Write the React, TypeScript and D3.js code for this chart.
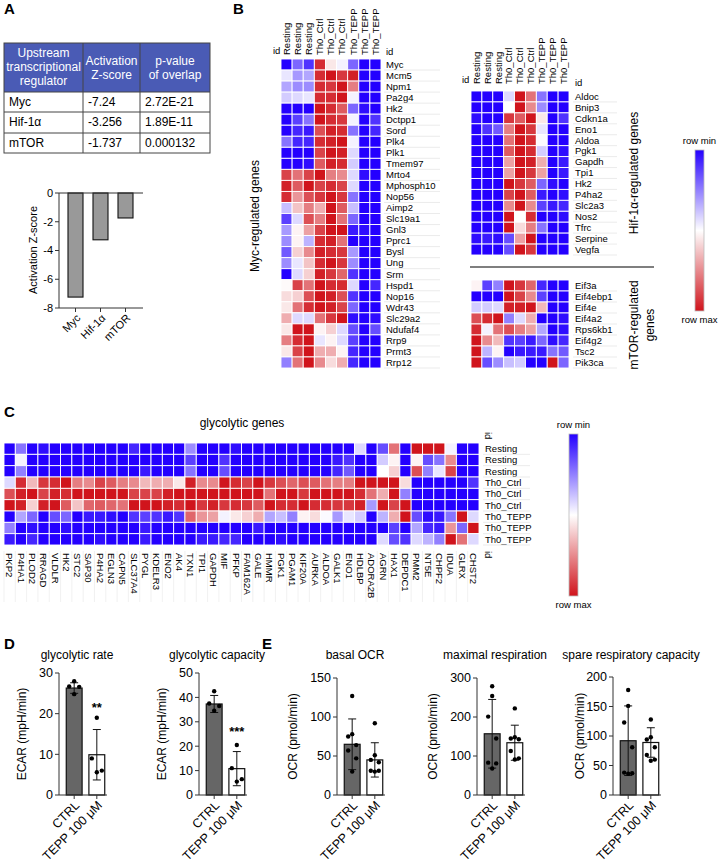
import React from "react";
import * as d3 from "d3";

const FONT = "'Liberation Sans', Arial, sans-serif";

// ---------- Panel A ----------
const regulators = ["Myc", "Hif-1α", "mTOR"];
const zScoreText = ["-7.24", "-3.256", "-1.737"];
const zScores = [-7.24, -3.256, -1.737];
const pValues = ["2.72E-21", "1.89E-11", "0.000132"];
const tableHeaders = [["Upstream", "transcriptional", "regulator"], ["Activation", "Z-score"], ["p-value", "of overlap"]];
const zTicks = [0, -2, -4, -6, -8];

// ---------- Panel B ----------
const sampleLabels = ["Resting", "Resting", "Resting", "Th0_Ctrl", "Th0_Ctrl", "Th0_Ctrl", "Th0_TEPP", "Th0_TEPP", "Th0_TEPP"];
const mycGenes = ["Myc", "Mcm5", "Npm1", "Pa2g4", "Hk2", "Dctpp1", "Sord", "Plk4", "Plk1", "Tmem97", "Mrto4", "Mphosph10", "Nop56", "Aimp2", "Slc19a1", "Gnl3", "Pprc1", "Bysl", "Ung", "Srm", "Hspd1", "Nop16", "Wdr43", "Slc29a2", "Ndufaf4", "Rrp9", "Prmt3", "Rrp12"];
const mycValues = [
  [-1, -0.6, -0.8, 0.9, 0.1, -0.05, -0.6, -1, -1],
  [-0.1, -0.4, -0.35, 0.9, 1, 0.85, 0.95, -1, -1],
  [-0.35, -0.45, -0.45, 0.9, 0.85, 1, 0.55, -1, -1],
  [-0.2, -0.15, -0.1, 0.9, 0.9, 1, -0.05, -1, -1],
  [-1, -1, -1, 1, 0.9, 0.7, -0.6, -0.95, -1],
  [-1, -0.75, -0.55, 1, 0.9, 0.85, -0.05, -1, -0.8],
  [-1, -0.85, -0.9, 0.75, 0.95, 0.9, -0.55, -1, -0.85],
  [-0.55, -0.85, -0.85, 0.9, 0.95, 1, -0.05, -1, -1],
  [-1, -1, -1, 0.8, 1, 0.95, -0.15, -1, -1],
  [-1, -1, -0.95, 0.7, 0.95, 0.9, -0.2, -1, -1],
  [0.8, 0.6, 0.8, 1, 0.55, 0.5, -0.15, -0.95, -1],
  [0.95, 0.7, 1, 0.8, 0.9, 0.8, -0.15, -1, -1],
  [0.9, 0.45, 0.75, 0.85, 1, 0.85, -0.55, -1, -1],
  [-0.25, 0.25, 0.55, 0.35, 1, 0.7, -0.25, -1, -1],
  [-0.75, -0.15, 0.75, 0.55, 1, 0.6, -0.6, -1, -1],
  [-0.4, 0.05, 0.4, 0.8, 1, 1, -0.9, -0.95, -1],
  [-0.45, 0.05, -0.3, 0.9, 0.95, 0.6, -1, -1, -1],
  [-0.65, 0.2, 0.5, 0.95, 0.9, 0.85, -0.4, -1, -1],
  [-0.45, -0.1, 0.25, 0.9, 1, 0.85, -0.45, -1, -1],
  [-1, -0.15, 0.2, 0.95, 0.85, 0.65, -0.8, -1, -1],
  [0.02, 0.8, 0.6, 1, 0.9, 0.9, -0.15, -1, -0.85],
  [0.15, 0.2, 0.75, 1, 0.95, 0.75, -0.8, -1, -1],
  [0.1, 0.6, 0.9, 1, 0.95, 0.8, -0.6, -1, -1],
  [0.35, -0.15, -0.15, 0.6, 0.85, 1, -0.95, -1, -0.95],
  [0.1, 1, 1, 0.05, 0.2, -0.15, -0.7, -1, -0.7],
  [0.55, 0.9, 1, -0.1, 0.05, -0.15, -0.75, -1, -1],
  [0.1, 0.8, 1, 0.35, 0.35, 0.05, -0.85, -1, -1],
  [-0.5, 0.6, 1, 0.5, 0.15, 0.35, -0.85, -1, -1],
];
const hifGenes = ["Aldoc", "Bnip3", "Cdkn1a", "Eno1", "Aldoa", "Pgk1", "Gapdh", "Tpi1", "Hk2", "P4ha2", "Slc2a3", "Nos2", "Tfrc", "Serpine", "Vegfa"];
const hifValues = [
  [-1, -1, -1, -0.15, 1, 0.6, -0.55, -1, -1],
  [-1, -1, -1, 0.0, 1, 0.5, -0.45, -1, -1],
  [-0.95, -1, -1, 0.85, 0.7, 1, 0.1, -1, -0.8],
  [-1, -0.8, -0.65, 0.55, 1, 0.85, -0.1, -1, -1],
  [-1, -1, -1, 0.6, 1, 0.9, -0.02, -1, -1],
  [-1, -1, -1, 0.7, 1, 0.9, -0.2, -1, -0.95],
  [-1, -1, -1, 0.4, 1, 0.95, 0.35, -1, -0.9],
  [-1, -1, -1, 0.4, 1, 0.85, 0.4, -1, -0.9],
  [-1, -1, -1, 1, 0.85, 0.7, -0.6, -0.95, -1],
  [-1, -1, -1, 0.8, 1, 0.7, -0.9, -1, -0.95],
  [-1, -1, -1, 0.5, 1, 0.5, -0.75, -0.9, -0.85],
  [-1, -1, -1, 1, 0.0, 0.9, -1, -1, -0.95],
  [-1, -1, -1, 1, 0.15, 0.55, -0.55, -1, -1],
  [-0.95, -0.9, -0.95, -0.7, 0.4, 1, -1, -1, -1],
  [-1, -1, -1, -0.7, 1, 0.85, -1, -1, -1],
];
const mtorGenes = ["Eif3a", "Eif4ebp1", "Eif4e", "Eif4a2", "Rps6kb1", "Eif4g2", "Tsc2", "Pik3ca"];
const mtorValues = [
  [0.05, -0.75, -0.5, 1, 0.85, 0.65, -0.85, -1, -1],
  [-1, -1, -1, 1, 0.8, 0.5, -0.75, -1, -1],
  [-0.2, -0.2, -0.15, 0.95, 0.95, 1, 0.3, -1, -1],
  [0.75, 0.9, 1, -0.5, -0.15, 0.35, -1, -1, -0.95],
  [0.9, -0.05, 0.6, 0.75, 0.55, 0.4, -0.35, -1, -0.95],
  [1, 0.5, 0.3, -0.8, -0.75, -0.9, -0.6, -0.95, -0.85],
  [1, -0.3, 0.05, -1, -0.9, -0.9, -0.9, -0.55, -0.65],
  [1, -0.7, -0.45, -0.25, -0.2, -1, -1, 1, -0.6],
];

// ---------- Panel C (one array per gene, samples in sampleLabels order) ----------
const glycoGenes = ["PKP2", "P4HA1", "PLOD2", "RRAGD", "VLDLR", "HK2", "STC2", "SAP30", "P4HA2", "EGLN3", "CAPN5", "SLC37A4", "PYGL", "KDELR3", "ENO2", "AK4", "TXN1", "TPI1", "GAPDH", "MIF", "PFKP", "FAM162A", "GALE", "HMMR", "PGK1", "PGAM1", "KIF20A", "AURKA", "ALDOA", "GALK1", "ENO1", "HDLBP", "ADORA2B", "AGRN", "HAX1", "DEPDC1", "PMM2", "NT5E", "CHPF2", "IDUA", "GLRX", "CHST2"];
const glycoValues = [
  [-1, -1, -1, -0.15, 0.75, 1, -1, -0.5, -0.9],
  [-0.55, -0.05, -0.5, 0.9, 0.95, 0.95, -0.35, -1, -1],
  [-1, -1, -1, 0.3, 1, 0.2, -0.6, -0.95, -0.85],
  [-0.95, -1, -1, 0.85, 0.8, 0.95, -1, -1, -1],
  [-1, -1, -1, 0.9, 0.95, 1, -0.7, -1, -1],
  [-1, -1, -1, 1, 0.9, 0.7, -0.6, -0.95, -1],
  [-1, -1, -1, 0.55, 1, 0.25, -1, -1, -1],
  [-1, -1, -1, 0.5, 1, 0.65, -0.9, -1, -1],
  [-1, -1, -1, 0.8, 1, 0.7, -0.9, -1, -0.95],
  [-1, -1, -1, 0.7, 1, 0.65, -0.95, -1, -1],
  [-1, -1, -1, 0.55, 1, 0.6, -1, -1, -1],
  [-0.85, -1, -1, 0.5, 0.8, 1, -0.8, -1, -1],
  [-1, -1, -0.9, 0.3, 0.8, 1, -0.75, -0.9, -0.9],
  [-1, -1, -1, 0.35, 0.8, 1, -0.8, -1, -1],
  [-1, -1, -1, 0.35, 0.95, 0.95, -0.9, -1, -1],
  [-1, -1, -1, 0.1, 1, 0.9, -0.8, -1, -1],
  [-0.45, -0.75, -0.55, 0.95, 1, 1, 0.65, -1, -1],
  [-1, -1, -1, 0.5, 1, 0.85, 0.45, -1, -0.9],
  [-1, -1, -1, 0.5, 1, 0.95, 0.4, -1, -0.9],
  [-1, -0.8, -0.7, 1, 1, 0.85, -0.05, -1, -0.85],
  [-0.95, -1, -1, 0.9, 1, 0.9, 0.1, -1, -0.85],
  [-1, -1, -1, 0.8, 1, 0.85, 0.2, -1, -1],
  [-1, -1, -1, 1, 1, 0.7, 0.35, -0.9, -1],
  [-1, -1, -1, 0.85, 0.6, 1, -0.35, -1, -1],
  [-1, -1, -1, 0.75, 1, 0.9, -0.25, -1, -0.95],
  [-1, -1, -1, 0.65, 1, 0.9, -0.5, -1, -1],
  [-1, -1, -1, 0.75, 0.85, 1, 0.05, -1, -1],
  [-1, -1, -1, 0.7, 1, 0.9, 0.15, -1, -1],
  [-1, -1, -1, 0.6, 1, 0.9, -0.02, -1, -1],
  [-1, -0.9, -0.85, 0.55, 1, 0.85, -0.4, -1, -1],
  [-1, -0.8, -0.65, 0.55, 1, 0.85, -0.1, -1, -1],
  [-0.15, -1, -1, 1, 0.9, 0.95, -0.2, -1, -1],
  [-1, -1, -1, 1, 0.6, -0.4, -1, -1, -1],
  [-0.7, -0.2, 0, 1, 0.35, 1, -0.3, -1, -0.15],
  [0.6, 0.05, 0.2, 1, 1, 0.8, 0.35, -0.75, -0.7],
  [-1, -1, -1, 0.15, -0.5, 1, 1, -1, -0.8],
  [1, 0.05, 0.75, -1, -1, -1, -0.7, -0.35, -0.15],
  [1, -0.7, -0.5, -1, -1, -1, -0.95, -0.85, -0.3],
  [1, -0.55, -0.1, -1, -1, -1, -0.9, -0.9, -0.5],
  [-0.05, 0.5, 0.8, -1, -1, -1, -0.55, 0.45, 1],
  [-1, -1, -1, -1, -1, -1, 1, -0.6, 0.6],
  [-1, -1, -1, -0.8, -1, -1, -0.15, 1, -0.15],
];

// ---------- Panels D & E ----------
const groups = ["CTRL", "TEPP 100 μM"];
const rateCtrl = [28, 26.7, 26.6, 24.8];
const rateTepp = [19, 9, 6, 5.6];
const rateMean = [26.3, 9.9];
const rateSd = [1.3, 6.2];
const capCtrl = [42.5, 37.5, 36.5, 34.5];
const capTepp = [20.5, 11, 6.5, 5.5];
const capMean = [37.3, 10.8];
const capSd = [3.5, 7];
const basalCtrl = [127, 78, 75, 64, 57, 47, 30];
const basalTepp = [92, 51, 45, 42, 31, 31, 30];
const basalMean = [65, 45];
const basalSd = [32.5, 22];
const maxCtrl = [279, 254, 201, 145, 83, 81, 68];
const maxTepp = [222, 148, 145, 143, 113, 94, 91];
const maxMean = [157, 134];
const maxSd = [88, 45];
const spareCtrl = [178, 151, 123, 81, 38, 37, 36];
const spareTepp = [128, 98, 94, 81, 68, 60, 58];
const spareMean = [92, 89];
const spareSd = [59, 25];

const BLUE = "#2400ff";
const RED = "#d0141c";
const color = d3.scaleLinear<string>().domain([-1, 0, 1]).range([BLUE, "#ffffff", RED]);

function Heatmap({ values, x0, x1, y0, y1 }: any) {
  const nR = values.length;
  const nC = values[0].length;
  const xs = d3.scaleBand<number>().domain(d3.range(nC)).range([x0, x1]);
  const ys = d3.scaleBand<number>().domain(d3.range(nR)).range([y0, y1]);
  return (
    <g>
      {values.map((row: number[], i: number) =>
        row.map((v: number, j: number) => (
          <rect key={i + "-" + j} x={xs(j)} y={ys(i)} width={xs.bandwidth()} height={ys.bandwidth()} fill={color(v)} stroke="#fff" strokeWidth={0.9} />
        ))
      )}
    </g>
  );
}

function RowLabels({ labels, x, y0, y1, lineEnd }: any) {
  const ys = d3.scaleBand<number>().domain(d3.range(labels.length)).range([y0, y1]);
  return (
    <g>
      {labels.map((l: string, i: number) => (
        <g key={i}>
          <text x={x} y={(ys(i) as number) + ys.bandwidth() / 2} dy="0.35em" fontSize={9.5} fontFamily={FONT}>{l}</text>
          <line x1={x - 2} x2={lineEnd} y1={(ys(i) as number) + ys.bandwidth()} y2={(ys(i) as number) + ys.bandwidth()} stroke="#e6e6e6" strokeWidth={0.8} />
        </g>
      ))}
    </g>
  );
}

function ColHeaders({ labels, x0, x1, yBottom }: any) {
  const xs = d3.scaleBand<number>().domain(d3.range(labels.length)).range([x0, x1]);
  return (
    <g>
      {labels.map((l: string, j: number) => {
        const cx = (xs(j) as number) + xs.bandwidth() / 2;
        return (
          <text key={j} transform={`translate(${cx},${yBottom}) rotate(-90)`} dy="0.35em" fontSize={9.5} fontFamily={FONT}>{l}</text>
        );
      })}
    </g>
  );
}

function Legend({ x, y0, y1 }: any) {
  return (
    <g fontFamily={FONT} fontSize={9.5}>
      <text x={x + 4.5} y={y0 - 6} textAnchor="middle">row min</text>
      <rect x={x} y={y0} width={9} height={y1 - y0} fill="url(#hmgrad)" stroke="#bbb" strokeWidth={0.8} />
      <text x={x + 4.5} y={y1 + 12} textAnchor="middle">row max</text>
    </g>
  );
}

function DotBar({ axisX, top, yMax, ticks, title, ylabel, ylabelX, ctrl, tepp, mean, sd, sig, sigY }: any) {
  const y0 = 795;
  const ys = d3.scaleLinear().domain([0, yMax]).range([y0, top]);
  const xs = d3.scaleBand<string>().domain(groups).range([axisX + 5, axisX + 48]).paddingInner(0.3).paddingOuter(0.1);
  const bw = xs.bandwidth();
  const jit = (n: number, i: number) => (n === 4 ? [0, -5, 5, 0][i] : [0, 0, -4, 4, -4, 4, 0][i]);
  const series = [ctrl, tepp];
  const cx0 = (xs(groups[0]) as number) + bw / 2;
  const cx1 = (xs(groups[1]) as number) + bw / 2;
  return (
    <g fontFamily={FONT}>
      <text x={(axisX + axisX + 48) / 2 - 6} y={659} textAnchor="middle" fontSize={12}>{title}</text>
      <text transform={`translate(${ylabelX},${(top + y0) / 2}) rotate(-90)`} textAnchor="middle" dy="0.35em" fontSize={12}>{ylabel}</text>
      {groups.map((g, gi) => (
        <rect key={g} x={xs(g)} y={ys(mean[gi])} width={bw} height={y0 - ys(mean[gi])} fill={gi === 0 ? "#666" : "#fff"} stroke="#111" strokeWidth={1.2} />
      ))}
      {groups.map((g, gi) => {
        const cx = (xs(g) as number) + bw / 2;
        const hi = ys(mean[gi] + sd[gi]);
        const lo = ys(Math.max(0, mean[gi] - sd[gi]));
        return (
          <g key={g} stroke="#111" strokeWidth={1}>
            <line x1={cx} x2={cx} y1={hi} y2={lo} />
            <line x1={cx - 4} x2={cx + 4} y1={hi} y2={hi} />
            <line x1={cx - 4} x2={cx + 4} y1={lo} y2={lo} />
          </g>
        );
      })}
      {series.map((vals: number[], gi: number) =>
        vals.map((v: number, i: number) => (
          <circle key={gi + "-" + i} cx={(gi === 0 ? cx0 : cx1) + jit(vals.length, i)} cy={ys(v)} r={2.2} fill="#000" />
        ))
      )}
      {sig && (
        <text x={cx1} y={ys(sigY)} textAnchor="middle" fontSize={13} fontWeight="bold">{sig}</text>
      )}
      <line x1={axisX} x2={axisX} y1={top} y2={y0} stroke="#333" strokeWidth={1} />
      <line x1={axisX} x2={axisX + 48} y1={y0} y2={y0} stroke="#333" strokeWidth={1} />
      {ticks.map((t: number) => (
        <g key={t}>
          <line x1={axisX - 4} x2={axisX} y1={ys(t)} y2={ys(t)} stroke="#333" />
          <text x={axisX - 6} y={ys(t)} dy="0.35em" textAnchor="end" fontSize={12.5}>{t}</text>
        </g>
      ))}
      {groups.map((g) => {
        const cx = (xs(g) as number) + bw / 2;
        return (
          <g key={g}>
            <line x1={cx} x2={cx} y1={y0} y2={y0 + 4} stroke="#333" />
            <text transform={`translate(${cx + 3},${y0 + 8}) rotate(-45)`} textAnchor="end" dy="0.35em" fontSize={12.5}>{g}</text>
          </g>
        );
      })}
    </g>
  );
}

export default function App() {
  // Panel A scales
  const cols = [4, 83, 140, 210];
  const rows = [43, 92, 112, 133, 153];
  const zy = d3.scaleLinear().domain([-8, 0]).range([308, 193]);
  const zx = d3.scaleBand<string>().domain(regulators).range([63, 138]).paddingInner(0.4).paddingOuter(0.2);

  const glycoRows = d3.range(sampleLabels.length).map((r) => glycoGenes.map((_, c) => glycoValues[c][r]));
  const cx = d3.scaleBand<number>().domain(d3.range(glycoGenes.length)).range([4, 479]);

  return (
    <svg width={718} height={863} style={{ position: "absolute", left: 0, top: 0, background: "#fff" }} fontFamily={FONT}>
      <defs>
        <linearGradient id="hmgrad" x1="0" y1="0" x2="0" y2="1">
          <stop offset="0" stopColor={BLUE} />
          <stop offset="0.5" stopColor="#ffffff" />
          <stop offset="1" stopColor={RED} />
        </linearGradient>
      </defs>
      <rect width={718} height={863} fill="#fff" />

      {/* ---------------- A ---------------- */}
      <text x={4} y={14} fontSize={15} fontWeight="bold">A</text>
      <rect x={cols[0]} y={rows[0]} width={cols[3] - cols[0]} height={rows[1] - rows[0]} fill="#4a5bb5" />
      {tableHeaders.map((lines, ci) => {
        const mid = (cols[ci] + cols[ci + 1]) / 2;
        const start = lines.length === 3 ? 57 : 65;
        return lines.map((l, li) => (
          <text key={ci + "-" + li} x={mid} y={start + li * 14} textAnchor="middle" fill="#fff" fontSize={12}>{l}</text>
        ));
      })}
      {regulators.map((r, i) => (
        <g key={r} fontSize={12}>
          <text x={cols[0] + 5} y={rows[i + 1] + 14}>{r}</text>
          <text x={cols[1] + 5} y={rows[i + 1] + 14}>{zScoreText[i]}</text>
          <text x={cols[2] + 5} y={rows[i + 1] + 14}>{pValues[i]}</text>
        </g>
      ))}
      <g stroke="#444" strokeWidth={1} fill="none">
        <rect x={cols[0]} y={rows[0]} width={cols[3] - cols[0]} height={rows[4] - rows[0]} />
        {cols.slice(1, 3).map((c) => <line key={c} x1={c} x2={c} y1={rows[0]} y2={rows[4]} />)}
        {rows.slice(1, 4).map((r) => <line key={r} x1={cols[0]} x2={cols[3]} y1={r} y2={r} />)}
      </g>

      {/* A bar chart */}
      {regulators.map((r, i) => (
        <rect key={r} x={zx(r)} y={zy(0)} width={zx.bandwidth()} height={zy(zScores[i]) - zy(0)} fill="#999" stroke="#111" strokeWidth={1.1} />
      ))}
      <line x1={59} x2={59} y1={zy(0)} y2={zy(-8)} stroke="#333" />
      <line x1={59} x2={143} y1={zy(0)} y2={zy(0)} stroke="#333" />
      <line x1={59} x2={143} y1={zy(-8)} y2={zy(-8)} stroke="#333" />
      {zTicks.map((t) => (
        <g key={t}>
          <line x1={55} x2={59} y1={zy(t)} y2={zy(t)} stroke="#333" />
          <text x={53} y={zy(t)} dy="0.35em" textAnchor="end" fontSize={11}>{t}</text>
        </g>
      ))}
      {regulators.map((r) => {
        const c = (zx(r) as number) + zx.bandwidth() / 2;
        return (
          <g key={r}>
            <line x1={c} x2={c} y1={zy(-8)} y2={zy(-8) + 4} stroke="#333" />
            <text transform={`translate(${c + 3},${zy(-8) + 8}) rotate(-45)`} textAnchor="end" dy="0.35em" fontSize={11}>{r}</text>
          </g>
        );
      })}
      <text transform={`translate(33,250) rotate(-90)`} textAnchor="middle" dy="0.35em" fontSize={11}>Activation Z-score</text>

      {/* ---------------- B ---------------- */}
      <text x={233} y={14} fontSize={15} fontWeight="bold">B</text>
      <ColHeaders labels={sampleLabels} x0={281} x1={381} yBottom={55} />
      <text x={273} y={54} fontSize={9.5}>id</text>
      <text x={386} y={55} fontSize={9.5}>id</text>
      <Heatmap values={mycValues} x0={281} x1={381} y0={59} y1={368} />
      <RowLabels labels={mycGenes} x={386} y0={59} y1={368} lineEnd={440} />
      <text transform={`translate(255,216) rotate(-90)`} textAnchor="middle" dy="0.35em" fontSize={12}>Myc-regulated genes</text>

      <ColHeaders labels={sampleLabels} x0={471} x1={569} yBottom={84} />
      <text x={462} y={83} fontSize={9.5}>id</text>
      <text x={575} y={86} fontSize={9.5}>id</text>
      <Heatmap values={hifValues} x0={471} x1={569} y0={91} y1={255} />
      <RowLabels labels={hifGenes} x={575} y0={91} y1={255} lineEnd={617} />
      <text transform={`translate(634,173) rotate(-90)`} textAnchor="middle" dy="0.35em" fontSize={12}>Hif-1α-regulated genes</text>
      <line x1={470} x2={654} y1={267} y2={267} stroke="#000" strokeWidth={1.2} />
      <Heatmap values={mtorValues} x0={471} x1={569} y0={280} y1={368} />
      <RowLabels labels={mtorGenes} x={575} y0={280} y1={368} lineEnd={617} />
      <text transform={`translate(634,325) rotate(-90)`} textAnchor="middle" dy="0.35em" fontSize={12}>mTOR-regulated</text>
      <text transform={`translate(650,325) rotate(-90)`} textAnchor="middle" dy="0.35em" fontSize={12}>genes</text>
      <Legend x={695} y0={150} y1={311} />

      {/* ---------------- C ---------------- */}
      <text x={4} y={417} fontSize={15} fontWeight="bold">C</text>
      <text x={242} y={427} textAnchor="middle" fontSize={12}>glycolytic genes</text>
      <Heatmap values={glycoRows} x0={4} x1={479} y0={443} y1={545} />
      <RowLabels labels={sampleLabels} x={485} y0={443} y1={545} lineEnd={530} />
      <text transform={`translate(488,432) rotate(90)`} dy="0.35em" fontSize={9.5}>id</text>
      <text transform={`translate(488,551) rotate(90)`} dy="0.35em" fontSize={9.5}>id</text>
      {glycoGenes.map((g, j) => {
        const x = (cx(j) as number) + cx.bandwidth() / 2;
        return (
          <g key={g}>
            <line x1={cx(j) as number} x2={cx(j) as number} y1={551} y2={602} stroke="#eee" strokeWidth={0.8} />
            <text transform={`translate(${x},553) rotate(90)`} dy="0.35em" fontSize={9.5}>{g}</text>
          </g>
        );
      })}
      <Legend x={569} y0={434} y1={596} />

      {/* ---------------- D ---------------- */}
      <text x={4} y={649} fontSize={15} fontWeight="bold">D</text>
      <DotBar axisX={59} top={673} yMax={30} ticks={[0, 10, 20, 30]} title="glycolytic rate" ylabel="ECAR (mpH/min)" ylabelX={22} ctrl={rateCtrl} tepp={rateTepp} mean={rateMean} sd={rateSd} sig="**" sigY={20.5} />
      <DotBar axisX={199} top={673} yMax={50} ticks={[0, 10, 20, 30, 40, 50]} title="glycolytic capacity" ylabel="ECAR (mpH/min)" ylabelX={162} ctrl={capCtrl} tepp={capTepp} mean={capMean} sd={capSd} sig="***" sigY={24} />

      {/* ---------------- E ---------------- */}
      <text x={262} y={649} fontSize={15} fontWeight="bold">E</text>
      <DotBar axisX={337} top={678} yMax={150} ticks={[0, 50, 100, 150]} title="basal OCR" ylabel="OCR (pmol/min)" ylabelX={293} ctrl={basalCtrl} tepp={basalTepp} mean={basalMean} sd={basalSd} />
      <DotBar axisX={477} top={678} yMax={300} ticks={[0, 100, 200, 300]} title="maximal respiration" ylabel="OCR (pmol/min)" ylabelX={433} ctrl={maxCtrl} tepp={maxTepp} mean={maxMean} sd={maxSd} />
      <DotBar axisX={613} top={677} yMax={200} ticks={[0, 50, 100, 150, 200]} title="spare respiratory capacity" ylabel="OCR (pmol/min)" ylabelX={580} ctrl={spareCtrl} tepp={spareTepp} mean={spareMean} sd={spareSd} />
    </svg>
  );
}
